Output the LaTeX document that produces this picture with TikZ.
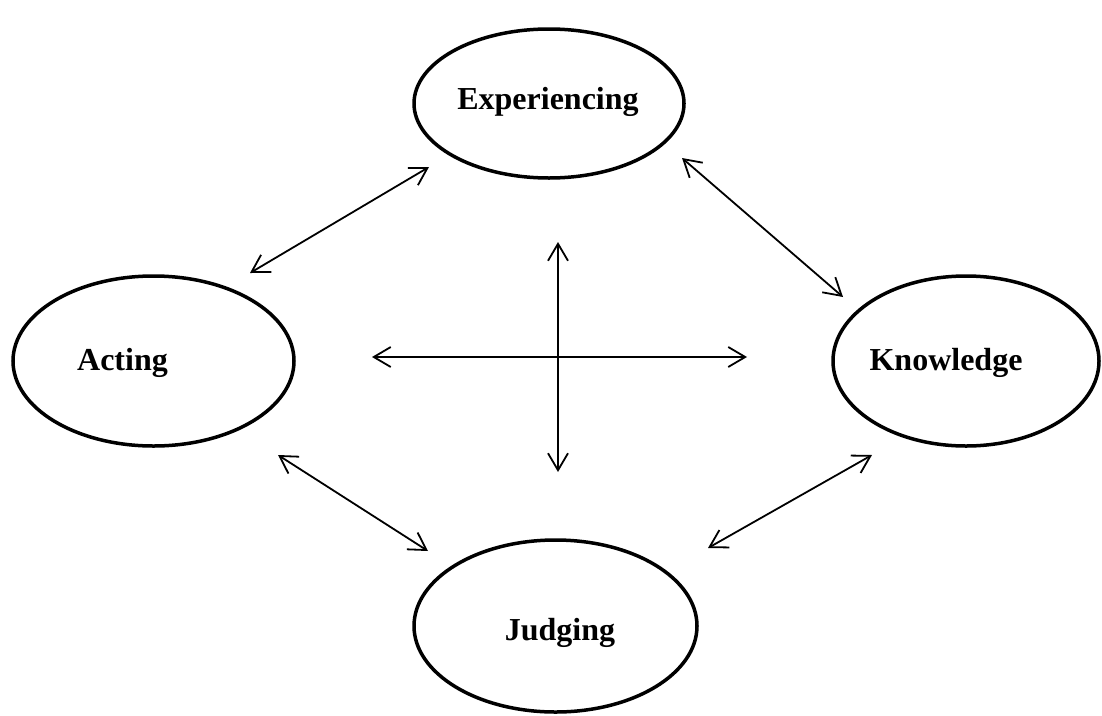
\documentclass[tikz,border=0pt]{standalone}
\usepackage{fontspec}
\setmainfont{Liberation Serif}
\usetikzlibrary{shapes.geometric,arrows.meta}
\begin{document}
\begin{tikzpicture}[x=1pt,y=-1pt,
  oval/.style={ellipse,draw=black,line width=3.5pt,inner sep=0pt},
  word/.style={font=\fontsize{32}{38}\selectfont\bfseries,anchor=base,inner sep=0pt},
  link/.style={line width=1.8pt,{Straight Barb[length=17pt,width=20pt,line width=1.8pt]}-{Straight Barb[length=17pt,width=20pt,line width=1.8pt]}}]
\useasboundingbox (0,0) rectangle (1102,715);
% ellipses
\node[oval,minimum width=270pt,minimum height=149pt] (expE) at (549,103.5) {};
\node[oval,minimum width=281pt,minimum height=170pt] (actE) at (153.5,361) {};
\node[oval,minimum width=266pt,minimum height=170pt] (knoE) at (966,361) {};
\node[oval,minimum width=283pt,minimum height=172pt] (judE) at (555.5,626) {};
% labels
\node[word] (exp) at (548,109) {Experiencing};
\node[word] (act) at (122.5,370) {Acting};
\node[word] (kno) at (946,370) {Knowledge};
\node[word] (jud) at (560,640) {Judging};
% arrow end points
\coordinate (ae1) at (250,273);
\coordinate (ae2) at (429,167);
\coordinate (ek1) at (682,158);
\coordinate (ek2) at (843,297);
\coordinate (aj1) at (278,455);
\coordinate (aj2) at (428,551);
\coordinate (jk1) at (708,548);
\coordinate (jk2) at (872,455);
\coordinate (hl) at (372,357);
\coordinate (hr) at (747,357);
\coordinate (vt) at (558,242);
\coordinate (vb) at (558,472);
% arrows
\draw[link] (ae1) -- (ae2);
\draw[link] (ek1) -- (ek2);
\draw[link] (aj1) -- (aj2);
\draw[link] (jk1) -- (jk2);
\draw[link] (hl) -- (hr);
\draw[link] (vt) -- (vb);
\end{tikzpicture}
\end{document}
